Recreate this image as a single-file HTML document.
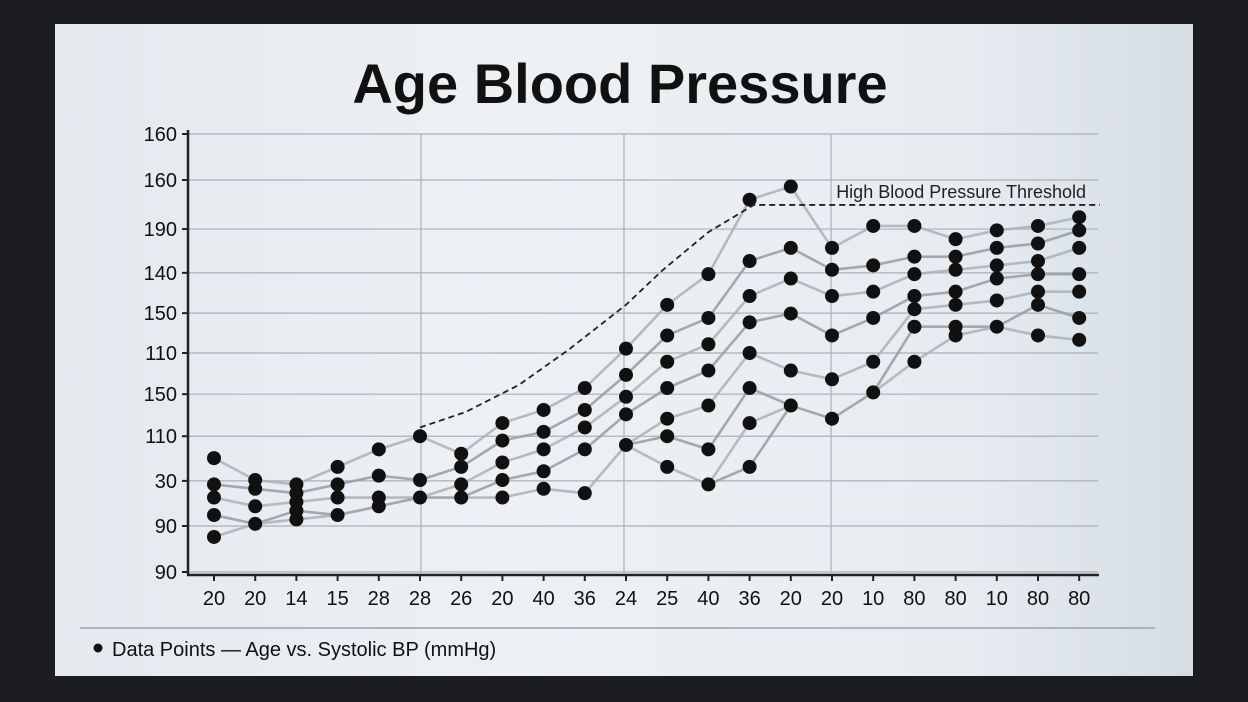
<!DOCTYPE html>
<html><head><meta charset="utf-8">
<style>
html,body{margin:0;padding:0;width:1248px;height:702px;overflow:hidden;background:#1b1d20;}
#screen{position:absolute;left:55px;top:24px;width:1138px;height:652px;background:linear-gradient(90deg,#e3e9ee,#edf1f4 40%,#e6ecf0 80%,#d5dde3);}
svg{position:absolute;left:0;top:0;}
text{font-family:"Liberation Sans",sans-serif;}
</style></head>
<body>
<div id="screen"></div>
<svg id="chart" width="1248" height="702">
<text x="620" y="103" text-anchor="middle" font-size="56" font-weight="bold" fill="#111">Age Blood Pressure</text>
<g id="grid"></g><g id="lines"></g><g id="pts"></g><g id="axes"></g>
<line x1="80" y1="628" x2="1155" y2="628" stroke="#9aa2a8" stroke-width="1.5"/>
<g>
<circle cx="98" cy="648" r="4.5" fill="#111"/>
<text x="112" y="656" font-size="20" fill="#111">Data Points — Age vs. Systolic BP (mmHg)</text>
</g>
</svg>
<script>
const yTickLabels=["160","160","190","140","150","110","150","110","30","90","90"];
const yTickPos=[100,89.5,78.3,68.3,59.1,50,40.6,31,20.8,10.5,0];
const xLabels=["20","20","14","15","28","28","26","20","40","36","24","25","40","36","20","20","10","80","80","10","80","80"];
const colValues=[
[26,20,17,13,8],
[21,19,15,11],
[20,18,16,14,12],
[24,20,17,13],
[28,22,17,15],
[31,21,17],
[27,24,20,17],
[34,30,25,21,17],
[37,32,28,23,19],
[42,37,33,28,18],
[51,45,40,36,29],
[61,54,48,42,35,31,24],
[68,58,52,46,38,28,20],
[85,71,63,57,50,42,34,24],
[88,74,67,59,46,38],
[74,69,63,54,44,35],
[79,70,64,58,48,41],
[79,72,68,63,60,56,48],
[76,72,69,64,61,56,54],
[78,74,70,67,62,56],
[79,75,71,68,64,61,54],
[81,78,74,68,64,58,53]
];
const thresholdX=[5,6.1,7.4,8.6,10,10.9,12,13.1,21.5];
const thresholdY=[33,36.5,42.7,50.7,61,69,77.6,83.8,83.8];
const X0=214,DX=41.2,Y0=572,Y1=134;
const xs=i=>X0+i*DX;
const ys=v=>Y0-(Y0-Y1)*v/100;
const NS="http://www.w3.org/2000/svg";
function mk(t,a,p){const e=document.createElementNS(NS,t);for(const k in a)e.setAttribute(k,a[k]);p.appendChild(e);return e;}
const grid=document.getElementById('grid'),axes=document.getElementById('axes'),lines=document.getElementById('lines'),pts=document.getElementById('pts');
yTickPos.forEach((v,i)=>{
 const g=mk('line',{x1:188,x2:1098,y1:ys(v),y2:ys(v),stroke:'#a9b1b7','stroke-width':1.2},grid);
 
 
 mk('line',{x1:182,x2:188,y1:ys(v),y2:ys(v),stroke:'#222','stroke-width':2},axes);
 const t=mk('text',{x:177,y:ys(v)+7,'text-anchor':'end','font-size':20,fill:'#111'},axes);
 t.textContent=yTickLabels[i];
 
 
});
[421,624,831].forEach(x=>{
 const l=mk('line',{x1:x,x2:x,y1:134,y2:572,stroke:'#a9b1b7','stroke-width':1.2},grid);
 
 
});
mk('line',{x1:188,x2:188,y1:130,y2:575,stroke:'#222','stroke-width':2.5},axes);
mk('line',{x1:187,x2:1099,y1:575,y2:575,stroke:'#222','stroke-width':2.5},axes);
xLabels.forEach((s,i)=>{
 mk('line',{x1:xs(i),x2:xs(i),y1:575,y2:581,stroke:'#222','stroke-width':2},axes);
 const t=mk('text',{x:xs(i),y:605,'text-anchor':'middle','font-size':20,fill:'#111'},axes);
 t.textContent=s;
 
 
});
for(let c=0;c<colValues.length-1;c++){
 const a=colValues[c],b=colValues[c+1],n=Math.max(a.length,b.length);
 for(let k=0;k<n;k++){
  const va=a[Math.min(k,a.length-1)],vb=b[Math.min(k,b.length-1)];
  const l=mk('line',{x1:xs(c),y1:ys(va),x2:xs(c+1),y2:ys(vb),stroke:k%2?'#959ca1':'#aab1b6','stroke-width':2.6,'stroke-opacity':0.85},lines);
  
  
 }
}
colValues.forEach((arr,c)=>arr.forEach(v=>{
 const p=mk('circle',{cx:xs(c),cy:ys(v),r:7,fill:'#111'},pts);
 
 
}));
const d=thresholdX.map((x,i)=>(i?'L':'M')+xs(x)+','+ys(thresholdY[i])).join(' ');
const th=mk('path',{d:d,fill:'none',stroke:'#222','stroke-width':1.8,'stroke-dasharray':'6,4'},axes);


const tl=mk('text',{x:1086,y:198,'text-anchor':'end','font-size':18,fill:'#222'},axes);
tl.textContent='High Blood Pressure Threshold';


</script>
</body></html>
